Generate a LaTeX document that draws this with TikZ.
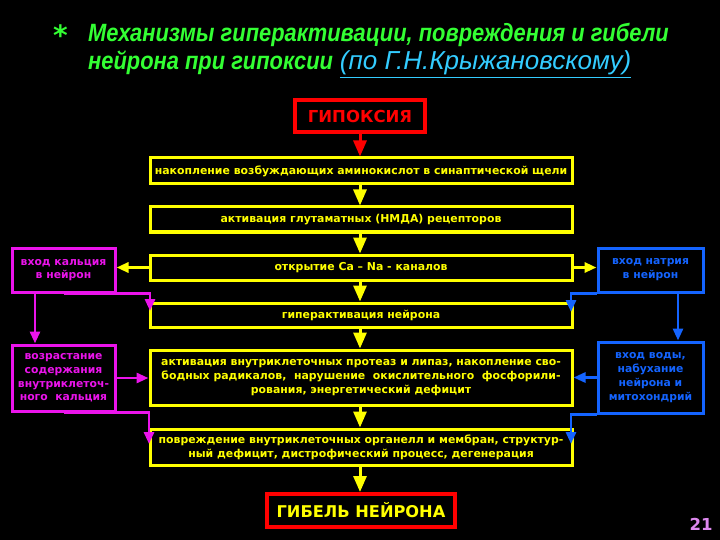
\documentclass[tikz,border=0pt]{standalone}
\usepackage{fontspec}
\setmainfont{DejaVu Sans}
\newfontfamily\titlefont{Liberation Sans}
\usetikzlibrary{arrows.meta}
\definecolor{tgreen}{RGB}{51,255,51}
\definecolor{tcyan}{RGB}{51,204,255}
\definecolor{yel}{RGB}{255,255,0}
\definecolor{rd}{RGB}{255,0,0}
\definecolor{mag}{RGB}{235,20,235}
\definecolor{blu}{RGB}{20,100,255}
\definecolor{numc}{RGB}{221,136,238}
\begin{document}
\begin{tikzpicture}[x=1pt,y=-1pt,
  box/.style={draw=yel, line width=3pt, inner sep=0pt, minimum width=422pt, text=yel,
    font=\bfseries\fontsize{10.9}{14}\selectfont, align=center},
  redbox/.style={draw=rd, line width=4pt, inner sep=0pt},
  magbox/.style={draw=mag, line width=3pt, inner sep=0pt, minimum width=103pt, text=mag,
    font=\bfseries\fontsize{10.8}{13.7}\selectfont, align=center},
  blubox/.style={draw=blu, line width=3pt, inner sep=0pt, minimum width=105pt, text=blu,
    font=\bfseries\fontsize{10.8}{14}\selectfont, align=center},
  titletext/.style={anchor=base west, inner sep=0pt, text=tgreen,
    font=\titlefont\bfseries\itshape\fontsize{25}{25}\selectfont},
  bigtip/.style={-{Triangle[width=13pt,length=16pt]}},
  tip/.style={-{Triangle[width=10pt,length=12pt]}},
  yarr/.style={draw=yel, line width=3pt, bigtip},
  rarr/.style={draw=rd, line width=3pt, bigtip},
  ysarr/.style={draw=yel, line width=3pt, tip},
  marr/.style={draw=mag, line width=2.8pt, tip},
  barr/.style={draw=blu, line width=2.8pt, tip}
]
\fill[black] (0,0) rectangle (720,540);
\useasboundingbox (0,0) rectangle (720,540);

% title
\node[anchor=base west, inner sep=0pt, text=tgreen, font=\bfseries\fontsize{28}{28}\selectfont] (star) at (53,46) {*};
\node[titletext] (t1) at (88,42)
  {\scalebox{0.875}[1]{Механизмы гиперактивации, повреждения и гибели}};
\node[titletext] (t2) at (88,70)
  {\scalebox{0.875}[1]{нейрона при гипоксии} {\color{tcyan}\mdseries\fontsize{26}{26}\selectfont\underline{(по Г.Н.Крыжановскому)}}};

% central chain
\node[redbox, minimum width=130pt, minimum height=32pt, text=rd, font=\bfseries\fontsize{16.5}{16.5}\selectfont] (hyp) at (360,116) {ГИПОКСИЯ};
\node[box, minimum height=26pt] (b1) at (361,171) {накопление возбуждающих аминокислот в синаптической щели};
\node[box, minimum height=25pt] (b2) at (361,219.5) {активация глутаматных (НМДА) рецепторов};
\node[box, minimum height=25pt] (b3) at (361,267.5) {открытие Ca -- Na - каналов};
\node[box, minimum height=24pt] (b4) at (361,315) {гиперактивация нейрона};
\node[box, minimum height=55pt] (b5) at (361,377.5) {активация внутриклеточных протеаз и липаз, накопление сво-\\бодных радикалов,\ \ нарушение\ \ окислительного\ \ фосфорили-\\рования, энергетический дефицит};
\node[box, minimum height=36pt] (b6) at (361,447) {повреждение внутриклеточных органелл и мембран, структур-\\ный дефицит, дистрофический процесс, дегенерация};
\node[redbox, minimum width=188pt, minimum height=33pt, text=yel, font=\bfseries\fontsize{16.2}{16.2}\selectfont] (death) at (361,510.5) {ГИБЕЛЬ НЕЙРОНА};

% side boxes
\node[magbox, minimum height=44pt] (ca) at (63.5,270) {вход кальция\\в нейрон};
\node[magbox, minimum height=66pt] (ca2) at (63.5,378) {возрастание\\содержания\\внутриклеточ-\\ного\ \ кальция};
\node[blubox, minimum height=44pt] (na) at (650.5,270) {вход натрия\\в нейрон};
\node[blubox, minimum height=71pt] (water) at (650.5,377.5) {вход воды,\\набухание\\нейрона и\\митохондрий};

% central arrows
\draw[rarr] (hyp.south -| 360,0) -- (b1.north -| 360,0);
\draw[yarr] (b1.south -| 360,0) -- (b2.north -| 360,0);
\draw[yarr] (b2.south -| 360,0) -- (b3.north -| 360,0);
\draw[yarr] (b3.south -| 360,0) -- (b4.north -| 360,0);
\draw[yarr] (b4.south -| 360,0) -- (b5.north -| 360,0);
\draw[yarr] (b5.south -| 360,0) -- (b6.north -| 360,0);
\draw[yarr] (b6.south -| 360,0) -- (death.north -| 360,0);

% side arrows
\draw[ysarr] (b3.west) -- (b3.west -| ca.east);
\draw[ysarr] (b3.east) -- (b3.east -| na.west);

\coordinate (m1) at (150,311);
\coordinate (m2) at (149,444);
\coordinate (n1) at (571,312);
\coordinate (n2) at (571,444);

\draw[marr] ([xshift=-28.5pt]ca.south) -- ([xshift=-28.5pt]ca2.north);
\draw[marr] (ca.south) -| (m1);
\draw[marr] (ca2.east) -- (ca2.east -| b5.west);
\draw[marr] (ca2.south) -| (m2);

\draw[barr] ([xshift=27.5pt]na.south) -- ([xshift=27.5pt]water.north);
\draw[barr] (na.south west) -| (n1);
\draw[barr] (water.west) -- (water.west -| b5.east);
\draw[barr] (water.south west) -| (n2);

\node[text=numc, inner sep=0pt, font=\bfseries\fontsize{16.5}{16.5}\selectfont] (num) at (701,524.5) {21};
\end{tikzpicture}
\end{document}
